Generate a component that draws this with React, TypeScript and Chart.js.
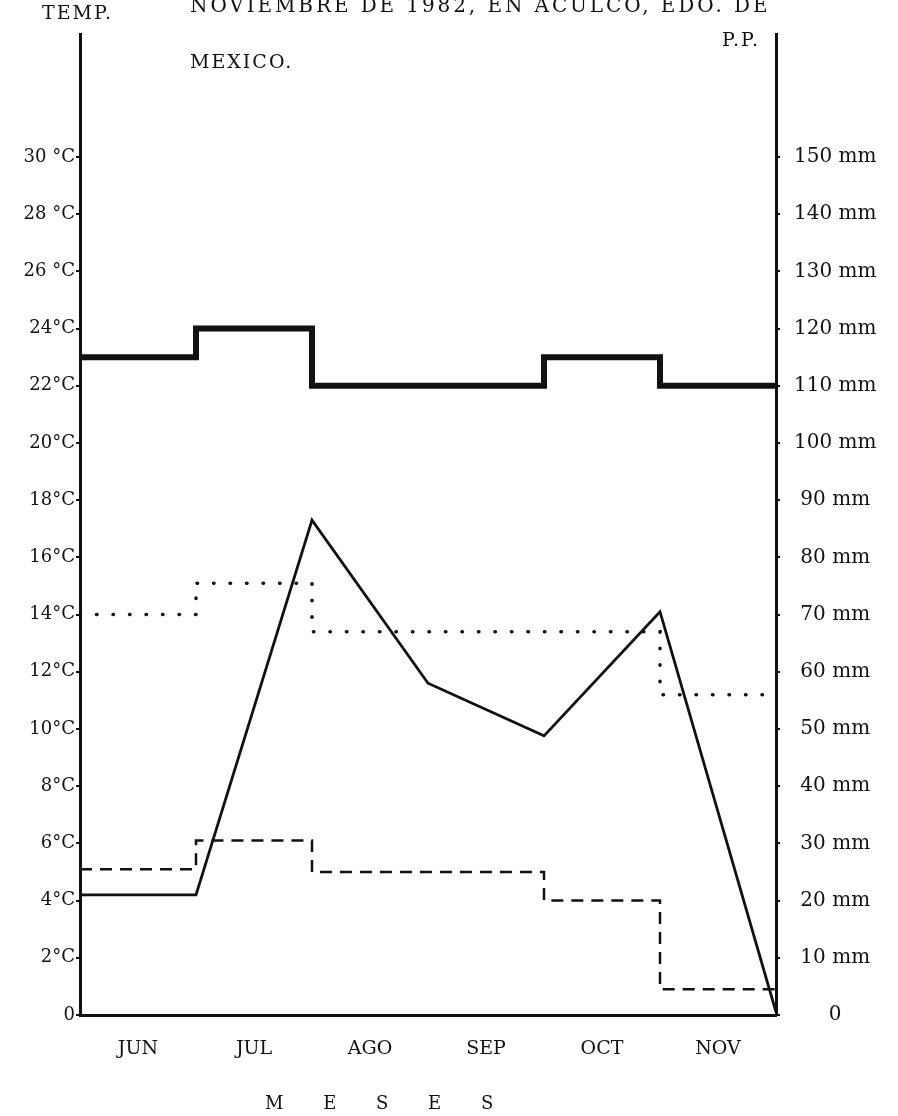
import React, { useEffect, useRef } from 'react';
import { Chart, registerables } from 'chart.js';

Chart.register(...registerables);

// ---- Data ----
const months = ['JUN', 'JUL', 'AGO', 'SEP', 'OCT', 'NOV'];
const tempTickValues = [0, 2, 4, 6, 8, 10, 12, 14, 16, 18, 20, 22, 24, 26, 28, 30];
const ppTickValues = [0, 10, 20, 30, 40, 50, 60, 70, 80, 90, 100, 110, 120, 130, 140, 150];

// monthly step series (°C, left axis)
const thickStep = [23, 24, 22, 22, 23, 22];
const dottedStep = [14, 15.1, 13.4, 13.4, 13.4, 11.2];
const dashedStep = [5.1, 6.1, 5.0, 5.0, 4.0, 0.9];

// precipitation polyline (mm, right axis), values at month boundaries
const ppLine = [21, 21, 86.5, 58, 48.8, 70.5, 0.5];

const TEMP_MAX = 34.3;
const PP_MAX = TEMP_MAX * 5;

const FONT = '"DejaVu Serif", "Liberation Serif", serif';
const INK = '#111';

function stepPoints(values: number[]) {
  const pts = values.map((v, i) => ({ x: i, y: v }));
  pts.push({ x: values.length, y: values[values.length - 1] });
  return pts;
}

function App() {
  const canvasRef = useRef<HTMLCanvasElement | null>(null);

  useEffect(() => {
    const canvas = canvasRef.current;
    if (!canvas) return;
    const chart = new Chart(canvas, {
      type: 'line',
      data: {
        datasets: [
          {
            label: 'thick',
            data: stepPoints(thickStep),
            stepped: 'before',
            borderColor: INK,
            borderWidth: 6,
            borderJoinStyle: 'miter',
            pointRadius: 0,
            fill: false,
            yAxisID: 'y',
          },
          {
            label: 'dotted',
            data: stepPoints(dottedStep),
            stepped: 'before',
            borderColor: INK,
            borderWidth: 3.5,
            borderDash: [0.5, 16],
            borderCapStyle: 'round',
            pointRadius: 0,
            fill: false,
            yAxisID: 'y',
          },
          {
            label: 'dashed',
            data: stepPoints(dashedStep),
            stepped: 'before',
            borderColor: INK,
            borderWidth: 2.5,
            borderDash: [12, 8],
            pointRadius: 0,
            fill: false,
            yAxisID: 'y',
          },
          {
            label: 'pp',
            data: ppLine.map((v, i) => ({ x: i, y: v })),
            borderColor: INK,
            borderWidth: 2.8,
            borderJoinStyle: 'miter',
            tension: 0,
            pointRadius: 0,
            fill: false,
            yAxisID: 'y1',
          },
        ],
      },
      options: {
        responsive: false,
        animation: false,
        devicePixelRatio: 1,
        layout: { padding: { top: 34, left: 0, right: 0, bottom: 0 } },
        plugins: {
          legend: { display: false },
          tooltip: { enabled: false },
          title: { display: false },
        },
        scales: {
          x: {
            type: 'linear',
            position: 'bottom',
            min: 0,
            max: months.length,
            afterBuildTicks: (scale: any) => {
              scale.ticks = months.map((_, i) => ({ value: i + 0.5 }));
            },
            afterFit: (scale: any) => {
              scale.height = 1116 - 1015;
            },
            ticks: {
              autoSkip: false,
              maxRotation: 0,
              padding: 23,
              color: INK,
              font: { family: FONT, size: 19 },
              callback: (_v: any, i: number) => months[i],
            },
            grid: { display: false, drawTicks: false },
            border: { display: true, color: INK, width: 3 },
          },
          y: {
            type: 'linear',
            position: 'left',
            min: 0,
            max: TEMP_MAX,
            afterBuildTicks: (scale: any) => {
              scale.ticks = tempTickValues.map((v) => ({ value: v }));
            },
            afterFit: (scale: any) => {
              scale.width = 80;
            },
            ticks: {
              autoSkip: false,
              padding: 1,
              color: INK,
              font: { family: FONT, size: 18 },
              callback: (v: any) => (v === 0 ? '0' : v >= 26 ? `${v} °C` : `${v}°C`),
            },
            grid: { display: true, drawOnChartArea: false, drawTicks: true, tickLength: 4, color: INK, lineWidth: 2 },
            border: { display: true, color: INK, width: 3 },
          },
          y1: {
            type: 'linear',
            position: 'right',
            min: 0,
            max: PP_MAX,
            afterBuildTicks: (scale: any) => {
              scale.ticks = ppTickValues.map((v) => ({ value: v }));
            },
            afterFit: (scale: any) => {
              scale.width = 898 - 776;
            },
            ticks: {
              autoSkip: false,
              padding: 14,
              crossAlign: 'center',
              color: INK,
              font: { family: FONT, size: 20 },
              callback: (v: any) => (v === 0 ? '0' : `${v} mm`),
            },
            grid: { display: true, drawOnChartArea: false, drawTicks: true, tickLength: 4, color: INK, lineWidth: 2 },
            border: { display: true, color: INK, width: 3 },
          },
        },
      },
    } as any);
    return () => chart.destroy();
  }, []);

  const txt: React.CSSProperties = {
    position: 'absolute',
    fontFamily: FONT,
    color: INK,
    whiteSpace: 'pre',
    margin: 0,
  };

  return (
    <div style={{ position: 'absolute', left: 0, top: 0, width: 898, height: 1116, background: '#fff', overflow: 'hidden' }}>
      <canvas ref={canvasRef} width={898} height={1116} style={{ position: 'absolute', left: 0, top: 0, width: 898, height: 1116 }} />
      <div style={{ ...txt, left: 190, top: -5, fontSize: 20, lineHeight: '20px', letterSpacing: '2.9px' }}>
        NOVIEMBRE DE 1982, EN ACULCO, EDO. DE
      </div>
      <div style={{ ...txt, left: 42, top: 2, fontSize: 19, lineHeight: '20px', letterSpacing: '2px' }}>TEMP.</div>
      <div style={{ ...txt, left: 722, top: 29, fontSize: 19, lineHeight: '20px', letterSpacing: '2px' }}>P.P.</div>
      <div style={{ ...txt, left: 190, top: 51, fontSize: 19, lineHeight: '20px', letterSpacing: '2px' }}>MEXICO.</div>
      <div style={{ ...txt, left: 265, top: 1094, fontSize: 18, lineHeight: '18px', letterSpacing: '17px' }}>M E S E S</div>
    </div>
  );
}

export default App;
